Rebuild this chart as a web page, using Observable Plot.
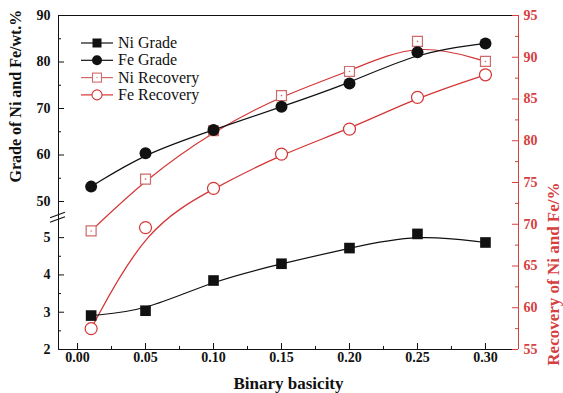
<!DOCTYPE html>
<html><head><meta charset="utf-8">
<script src="https://cdn.jsdelivr.net/npm/d3@7"></script>
<script src="https://cdn.jsdelivr.net/npm/@observablehq/plot@0.6"></script>
<style>
body{margin:0;background:#fff}
#chart{position:relative;width:563px;height:393px}
#chart svg{position:absolute;left:0;top:0}
#chart svg text{font-family:"Liberation Serif","Times New Roman",serif !important}
</style></head><body><div id="chart"></div>
<script>
// ---- data ----
const basicity = [0.01, 0.05, 0.10, 0.15, 0.20, 0.25, 0.30];
const niGrade = [2.91, 3.04, 3.85, 4.30, 4.72, 5.10, 4.87];
const feGrade = [53.2, 60.4, 65.4, 70.4, 75.4, 82.1, 84.0];
const niRecovery = [69.2, 75.4, 81.2, 85.4, 88.3, 91.9, 89.5];
const feRecovery = [57.5, 69.6, 74.3, 78.4, 81.4, 85.2, 87.9];
const xTicks = [0, 0.05, 0.10, 0.15, 0.20, 0.25, 0.30];
const xMinor = [0.025, 0.075, 0.125, 0.175, 0.225, 0.275];
const gradeUpperTicks = [50, 60, 70, 80, 90];
const gradeUpperMinor = [55, 65, 75, 85];
const gradeLowerTicks = [2, 3, 4, 5];
const gradeLowerMinor = [2.5, 3.5, 4.5];
const recoveryTicks = [55, 60, 65, 70, 75, 80, 85, 90, 95];
const recoveryMinor = [57.5, 62.5, 67.5, 72.5, 77.5, 82.5, 87.5, 92.5];
const seriesNames = ["Ni Grade", "Fe Grade", "Ni Recovery", "Fe Recovery"];
const xLabel = "Binary basicity";
const yLeftLabel = "Grade of Ni and Fe/wt.%";
const yRightLabel = "Recovery of Ni and Fe/%";

// ---- layout ----
const W = 563, H = 393, ML = 58, MR = 45, MT = 15, MB = 44, BREAK = 217;
const FW = W - ML - MR, FH = H - MT - MB;
const xDomain = [-0.014, 0.3243];
const RED = "#d6403f", RED_LINE = "#d43636", PINK = "#cf6a6a", INK = "#111";
const SERIF = "'Liberation Serif','Times New Roman',serif";
const baseStyle = {background: "transparent", fontFamily: SERIF, fontSize: "14px", fontWeight: "bold", color: INK, overflow: "visible"};
const intFmt = d => String(d);

const plotA = Plot.plot({
  width: W, height: H, marginLeft: ML, marginRight: MR, marginTop: MT, marginBottom: MB,
  x: {domain: xDomain}, y: {domain: [55, 95]}, style: baseStyle,
  marks: [
    Plot.ruleY([95], {stroke: INK}),
    Plot.ruleY([55], {stroke: INK}),
    Plot.ruleX([xDomain[0]], {stroke: INK}),
    Plot.ruleX([xDomain[1]], {stroke: RED}),
    Plot.axisX({ticks: xTicks, tickSize: 0, tickPadding: 3, tickFormat: d3.format(".2f"), label: null}),
    Plot.tickX(xTicks, {x: d => d, insetTop: FH - 6, stroke: INK}),
    Plot.tickX(xMinor, {x: d => d, insetTop: FH - 3, stroke: INK}),
    Plot.axisY({anchor: "right", ticks: recoveryTicks, tickSize: 0, tickPadding: 5, tickFormat: intFmt, color: RED, label: null}),
    Plot.tickY(recoveryTicks, {y: d => d, insetLeft: FW - 6, stroke: RED}),
    Plot.tickY(recoveryMinor, {y: d => d, insetLeft: FW - 3, stroke: RED}),
    Plot.line(niRecovery, {x: basicity, y: niRecovery, curve: "basis", stroke: RED_LINE, strokeWidth: 1.2}),
    Plot.line(feRecovery, {x: basicity, y: feRecovery, curve: "basis", stroke: RED_LINE, strokeWidth: 1.3}),
    Plot.dot(niRecovery, {x: basicity, y: niRecovery, symbol: "square", r: 5.6, stroke: PINK, fill: "white", strokeWidth: 1.2}),
    Plot.dot(niRecovery, {x: basicity, y: niRecovery, r: 0.8, fill: PINK}),
    Plot.dot(feRecovery, {x: basicity, y: feRecovery, r: 6, stroke: RED_LINE, fill: "white", strokeWidth: 1.2}),
    Plot.text([xLabel], {text: d => d, frameAnchor: "bottom", dy: 39, lineAnchor: "bottom", fontSize: 17}),
    Plot.text([yLeftLabel], {text: d => d, frameAnchor: "left", rotate: -90, dx: -43, fontSize: 16}),
    Plot.text([yRightLabel], {text: d => d, frameAnchor: "right", rotate: -90, dx: 35, fontSize: 17, fill: RED})
  ]
});

const plotB = Plot.plot({
  width: W, height: H, marginLeft: ML, marginRight: MR, marginTop: MT, marginBottom: H - BREAK,
  x: {domain: xDomain, axis: null}, y: {domain: [46.56, 90]}, style: baseStyle,
  marks: [
    Plot.axisY({anchor: "left", ticks: gradeUpperTicks, tickSize: 0, tickPadding: 8, tickFormat: intFmt, label: null}),
    Plot.tickY(gradeUpperTicks, {y: d => d, insetRight: FW - 6, stroke: INK}),
    Plot.tickY(gradeUpperMinor, {y: d => d, insetRight: FW - 3, stroke: INK}),
    Plot.line(feGrade, {x: basicity, y: feGrade, curve: "basis", stroke: INK, strokeWidth: 1.2}),
    Plot.dot(feGrade, {x: basicity, y: feGrade, r: 6, fill: INK})
  ]
});

const plotC = Plot.plot({
  width: W, height: H, marginLeft: ML, marginRight: MR, marginTop: BREAK, marginBottom: MB,
  x: {domain: xDomain, axis: null}, y: {domain: [2, 5.54]}, style: baseStyle,
  marks: [
    Plot.axisY({anchor: "left", ticks: gradeLowerTicks, tickSize: 0, tickPadding: 8, tickFormat: intFmt, label: null}),
    Plot.tickY(gradeLowerTicks, {y: d => d, insetRight: FW - 6, stroke: INK}),
    Plot.tickY(gradeLowerMinor, {y: d => d, insetRight: FW - 3, stroke: INK}),
    Plot.line(niGrade, {x: basicity, y: niGrade, curve: "basis", stroke: INK, strokeWidth: 1.2}),
    Plot.dot(niGrade, {x: basicity, y: niGrade, symbol: "square", r: 6, fill: INK})
  ]
});

const chart = document.getElementById("chart");
chart.append(plotA, plotB, plotC);

// ---- overlay: legend + axis break marks ----
const ov = d3.create("svg").attr("width", W).attr("height", H).style("overflow", "visible");
const lg = ov.append("g").style("font-family", SERIF).style("font-size", "16px").style("font-weight", "normal");
const styles = [
  {stroke: INK, sym: "square", fill: INK, mstroke: "none"},
  {stroke: INK, sym: "circle", fill: INK, mstroke: "none"},
  {stroke: PINK, sym: "square", fill: "white", mstroke: PINK, dot: true},
  {stroke: RED_LINE, sym: "circle", fill: "white", mstroke: RED_LINE}
];
seriesNames.forEach((name, i) => {
  const s = styles[i];
  const y = 43 + i * 17.3;
  const g = lg.append("g").attr("transform", `translate(0,${y})`);
  g.append("line").attr("x1", 81).attr("x2", 113).attr("stroke", s.stroke).attr("stroke-width", 1.2);
  if (s.sym === "square") {
    g.append("rect").attr("x", 92.5).attr("y", -4.5).attr("width", 9).attr("height", 9)
      .attr("fill", s.fill).attr("stroke", s.mstroke).attr("stroke-width", 1.1);
  } else {
    g.append("circle").attr("cx", 97).attr("r", 5).attr("fill", s.fill).attr("stroke", s.mstroke).attr("stroke-width", 1.1);
  }
  if (s.dot) g.append("circle").attr("cx", 97).attr("r", 0.7).attr("fill", PINK);
  g.append("text").attr("x", 118).attr("y", 5).attr("fill", INK).text(name);
});
const br = ov.append("g").attr("stroke", INK).attr("stroke-width", 1.1);
[-2.2, 2.2].forEach(o => {
  br.append("line").attr("x1", ML - 8).attr("y1", BREAK + o + 3).attr("x2", ML + 7).attr("y2", BREAK + o - 2.5);
});
chart.append(ov.node());
</script></body></html>
